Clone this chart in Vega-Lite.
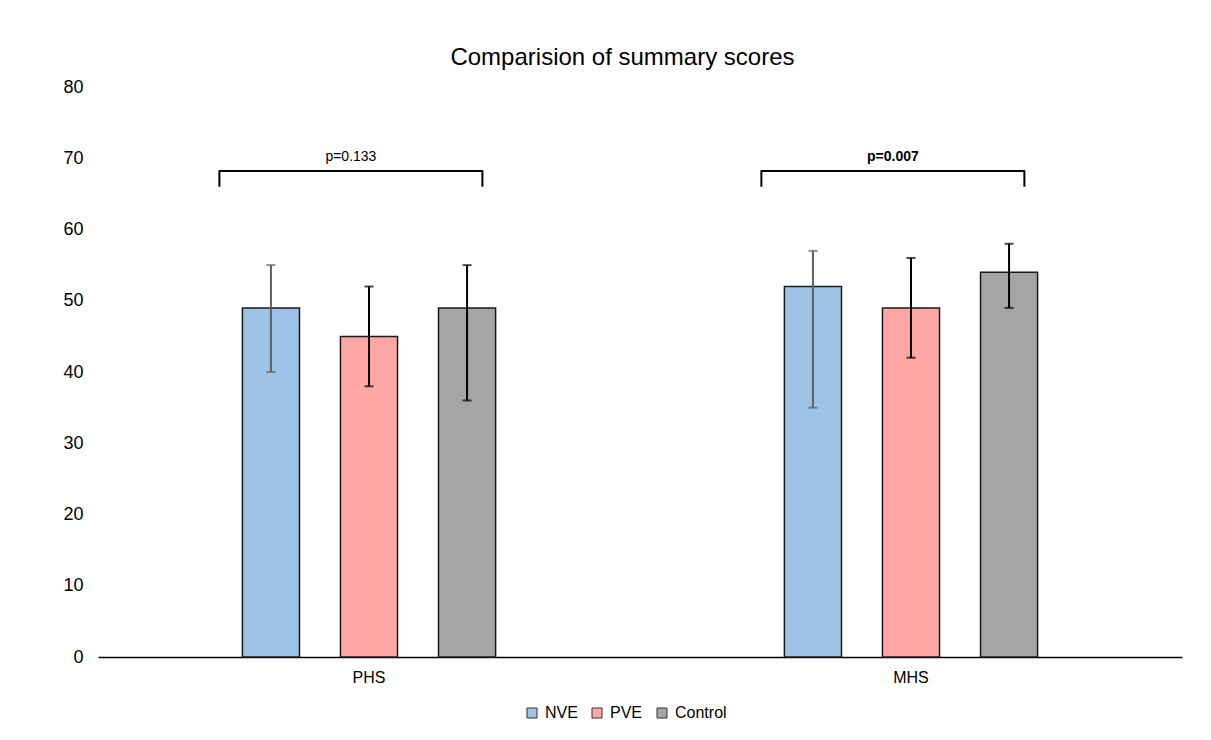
{
  "$schema": "https://vega.github.io/schema/vega-lite/v6.json",
  "width": 1084,
  "height": 570,
  "autosize": {"type": "none"},
  "padding": {"left": 98, "top": 87, "right": 29, "bottom": 83},
  "background": "white",
  "config": {
    "font": "Liberation Sans",
    "view": {"stroke": null},
    "axis": {"labelColor": "black", "labelFont": "Liberation Sans"},
    "axisY": {"grid": false, "domain": false, "ticks": false, "labelFontSize": 18, "labelPadding": 15, "title": null},
    "legend": {"labelFont": "Liberation Sans"}
  },
  "title": {
    "text": "Comparision of summary scores",
    "fontSize": 24,
    "fontWeight": "normal",
    "color": "black",
    "anchor": "middle",
    "frame": "bounds",
    "offset": 8
  },
  "datasets": {
    "bars": [
      {"cat": "PHS", "group": "NVE", "mean": 49, "lo": 40, "hi": 55},
      {"cat": "PHS", "group": "PVE", "mean": 45, "lo": 38, "hi": 52},
      {"cat": "PHS", "group": "Control", "mean": 49, "lo": 36, "hi": 55},
      {"cat": "MHS", "group": "NVE", "mean": 52, "lo": 35, "hi": 57},
      {"cat": "MHS", "group": "PVE", "mean": 49, "lo": 42, "hi": 56},
      {"cat": "MHS", "group": "Control", "mean": 54, "lo": 49, "hi": 58}
    ],
    "brackets": [
      {"cat": "PHS", "end": "left", "y": 66, "seq": 1},
      {"cat": "PHS", "end": "left", "y": 68.2, "seq": 2},
      {"cat": "PHS", "end": "right", "y": 68.2, "seq": 3},
      {"cat": "PHS", "end": "right", "y": 66, "seq": 4},
      {"cat": "MHS", "end": "left", "y": 66, "seq": 1},
      {"cat": "MHS", "end": "left", "y": 68.2, "seq": 2},
      {"cat": "MHS", "end": "right", "y": 68.2, "seq": 3},
      {"cat": "MHS", "end": "right", "y": 66, "seq": 4}
    ],
    "pvals": [
      {"cat": "PHS", "end": "mid", "label": "p=0.133", "p": 0.133, "y": 70.2},
      {"cat": "MHS", "end": "mid", "label": "p=0.007", "p": 0.007, "y": 70.2}
    ]
  },
  "encoding": {
    "x": {
      "field": "cat",
      "type": "nominal",
      "sort": ["PHS", "MHS"],
      "scale": {"paddingInner": 0.352, "paddingOuter": 0.176},
      "axis": {
        "title": null,
        "labelAngle": 0,
        "ticks": false,
        "domainColor": "black",
        "domainWidth": 1.5,
        "labelFontSize": 16,
        "labelPadding": 12
      }
    }
  },
  "layer": [
    {
      "layer": [
        {
          "data": {"name": "bars"},
          "mark": {"type": "bar", "stroke": "#1a1a1a", "strokeWidth": 1.5},
          "encoding": {
            "xOffset": {
              "field": "group",
              "type": "nominal",
              "sort": ["NVE", "PVE", "Control"],
              "scale": {"paddingInner": 0.418, "paddingOuter": 0.5}
            },
            "y": {
              "field": "mean",
              "type": "quantitative",
              "scale": {"domain": [0, 80], "nice": false},
              "axis": {"title": null, "values": [0, 10, 20, 30, 40, 50, 60, 70, 80]}
            },
            "color": {
              "field": "group",
              "type": "nominal",
              "scale": {
                "domain": ["NVE", "PVE", "Control"],
                "range": ["#9DC3E6", "#FFA6A6", "#A5A5A5"]
              },
              "legend": {
                "title": null,
                "orient": "none",
                "legendX": 426,
                "legendY": 618,
                "direction": "horizontal",
                "symbolType": "square",
                "symbolSize": 100,
                "symbolStrokeColor": "#333333",
                "symbolStrokeWidth": 1,
                "symbolOpacity": 1,
                "labelFontSize": 16,
                "labelColor": "black",
                "labelOffset": 5,
                "columnPadding": 11
              }
            }
          }
        },
        {
          "data": {"name": "bars"},
          "mark": {"type": "rule", "strokeWidth": 2},
          "encoding": {
            "xOffset": {"field": "group", "type": "nominal", "sort": ["NVE", "PVE", "Control"]},
            "y": {"field": "lo", "type": "quantitative", "axis": {"title": null, "values": [0, 10, 20, 30, 40, 50, 60, 70, 80]}},
            "y2": {"field": "hi"},
            "stroke": {"condition": {"test": "datum.group === 'NVE'", "value": "#606060"}, "value": "black"}
          }
        },
        {
          "data": {"name": "bars"},
          "mark": {"type": "tick", "size": 9, "thickness": 2},
          "encoding": {
            "xOffset": {"field": "group", "type": "nominal", "sort": ["NVE", "PVE", "Control"]},
            "y": {"field": "hi", "type": "quantitative", "axis": {"title": null, "values": [0, 10, 20, 30, 40, 50, 60, 70, 80]}},
            "color": {"condition": {"test": "datum.group === 'NVE'", "value": "#606060"}, "value": "black"}
          }
        },
        {
          "data": {"name": "bars"},
          "mark": {"type": "tick", "size": 9, "thickness": 2},
          "encoding": {
            "xOffset": {"field": "group", "type": "nominal", "sort": ["NVE", "PVE", "Control"]},
            "y": {"field": "lo", "type": "quantitative", "axis": {"title": null, "values": [0, 10, 20, 30, 40, 50, 60, 70, 80]}},
            "color": {"condition": {"test": "datum.group === 'NVE'", "value": "#606060"}, "value": "black"}
          }
        }
      ]
    },
    {
      "layer": [
        {
          "data": {"name": "brackets"},
          "mark": {"type": "line", "color": "black", "strokeWidth": 2, "strokeJoin": "round"},
          "encoding": {
            "xOffset": {
              "field": "end",
              "type": "nominal",
              "scale": {"type": "point", "domain": ["left", "mid", "right"], "range": [26, 289], "padding": 0}
            },
            "y": {"field": "y", "type": "quantitative", "axis": {"title": null, "values": [0, 10, 20, 30, 40, 50, 60, 70, 80]}},
            "order": {"field": "seq", "type": "quantitative"},
            "detail": {"field": "cat", "type": "nominal"}
          }
        },
        {
          "data": {"name": "pvals"},
          "transform": [{"filter": "datum.p >= 0.05"}],
          "mark": {"type": "text", "fontSize": 14, "color": "black", "baseline": "middle", "align": "center"},
          "encoding": {
            "xOffset": {"field": "end", "type": "nominal"},
            "y": {"field": "y", "type": "quantitative", "axis": {"title": null, "values": [0, 10, 20, 30, 40, 50, 60, 70, 80]}},
            "text": {"field": "label"}
          }
        },
        {
          "data": {"name": "pvals"},
          "transform": [{"filter": "datum.p < 0.05"}],
          "mark": {"type": "text", "fontSize": 14, "fontWeight": "bold", "color": "black", "baseline": "middle", "align": "center"},
          "encoding": {
            "xOffset": {"field": "end", "type": "nominal"},
            "y": {"field": "y", "type": "quantitative", "axis": {"title": null, "values": [0, 10, 20, 30, 40, 50, 60, 70, 80]}},
            "text": {"field": "label"}
          }
        }
      ]
    }
  ],
  "resolve": {"scale": {"xOffset": "independent"}}
}
